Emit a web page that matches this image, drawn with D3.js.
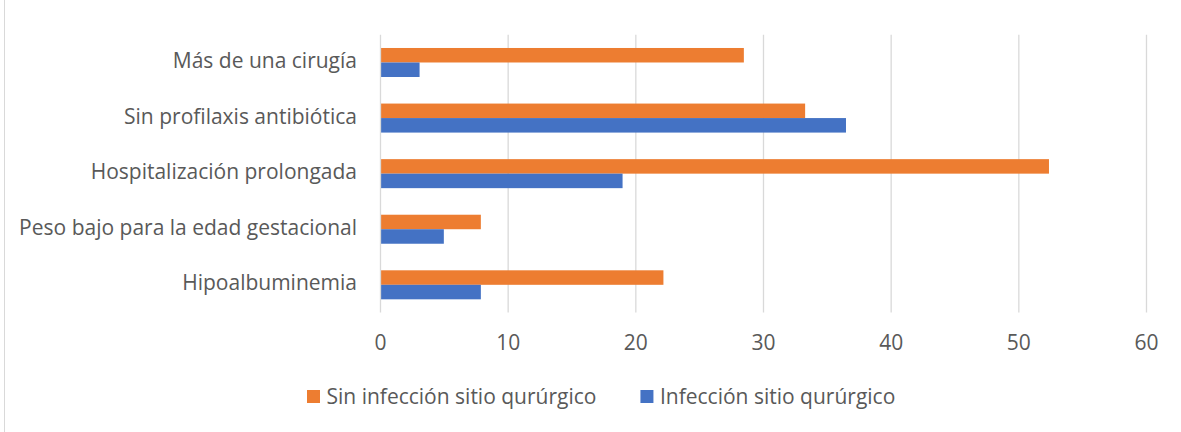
<!DOCTYPE html>
<html><head><meta charset="utf-8">
<script src="https://cdn.jsdelivr.net/npm/d3@7"></script>
<style>
html,body{margin:0;padding:0;background:#fff;}
svg{display:block;}
text{font-family:"Open Sans","Noto Sans",sans-serif;fill:#595959;}
</style></head>
<body>
<svg id="chart" width="1181" height="432"></svg>
<script>
const categories = ["Más de una cirugía","Sin profilaxis antibiótica","Hospitalización prolongada","Peso bajo para la edad gestacional","Hipoalbuminemia"];
const seriesNames = ["Sin infección sitio qurúrgico","Infección sitio qurúrgico"];
const sinInfeccion = [28.5, 33.3, 52.4, 7.9, 22.2];
const conInfeccion = [3.1, 36.5, 19.0, 5.0, 7.9];
const xTicks = [0,10,20,30,40,50,60];
const colors = ["#ED7D31","#4472C4"];

const svg = d3.select("#chart");
const W = 1181, H = 432;
const fs = 21;

// left border of chart frame
svg.append("line").attr("x1",4.5).attr("x2",4.5).attr("y1",0).attr("y2",H)
  .attr("stroke","#d9d9d9").attr("stroke-width",1);

const x = d3.scaleLinear().domain([0,60]).range([380,1146]);
const y = d3.scaleBand().domain(categories).range([34.7,312.6]).paddingInner(0.478).paddingOuter(0.239);
const ySub = d3.scaleBand().domain(seriesNames).range([0,y.bandwidth()]);

// gridlines
svg.append("g").selectAll("line").data(xTicks.filter(d=>d>0)).join("line")
  .attr("x1",d=>x(d)+0.5).attr("x2",d=>x(d)+0.5)
  .attr("y1",34.7).attr("y2",312.6)
  .attr("stroke","#d9d9d9").attr("stroke-width",1.3);

// bars
const series = [sinInfeccion, conInfeccion];
series.forEach((vals,si)=>{
  svg.append("g").selectAll("rect").data(vals).join("rect")
    .attr("x",x(0))
    .attr("y",(d,i)=>y(categories[i])+ySub(seriesNames[si]))
    .attr("width",d=>x(d)-x(0))
    .attr("height",ySub.bandwidth())
    .attr("fill",colors[si]);
});

// zero axis line
svg.append("line").attr("x1",x(0)+0.5).attr("x2",x(0)+0.5).attr("y1",34.7).attr("y2",312.6)
  .attr("stroke","#d9d9d9").attr("stroke-width",1.3);

// x axis tick labels
const xAxis = d3.axisBottom(x).tickValues(xTicks).tickSize(0).tickPadding(0).tickFormat(d3.format("d"));
const gx = svg.append("g").attr("transform","translate(0,350)").call(xAxis);
gx.select(".domain").remove();
gx.selectAll("text").attr("font-size",fs).attr("dy",0).attr("fill","#595959")
  .attr("font-family","Open Sans, Noto Sans, sans-serif");

// category labels
const yAxis = d3.axisLeft(y).tickSize(0).tickPadding(0);
const gy = svg.append("g").attr("transform","translate(357,0)").call(yAxis);
gy.select(".domain").remove();
gy.selectAll("text").attr("font-size",fs).attr("dy",5.6).attr("x",0).attr("fill","#595959")
  .attr("font-family","Open Sans, Noto Sans, sans-serif");

// legend
const leg = svg.append("g");
let lx = 307;
seriesNames.forEach((name,i)=>{
  leg.append("rect").attr("x",lx).attr("y",390).attr("width",13).attr("height",13).attr("fill",colors[i]);
  const t = leg.append("text").attr("x",lx+19.5).attr("y",403.5).attr("font-size",fs).text(name);
  const w = t.node().getComputedTextLength();
  lx = lx + 19.5 + w + 44;
});
</script>
</body></html>
